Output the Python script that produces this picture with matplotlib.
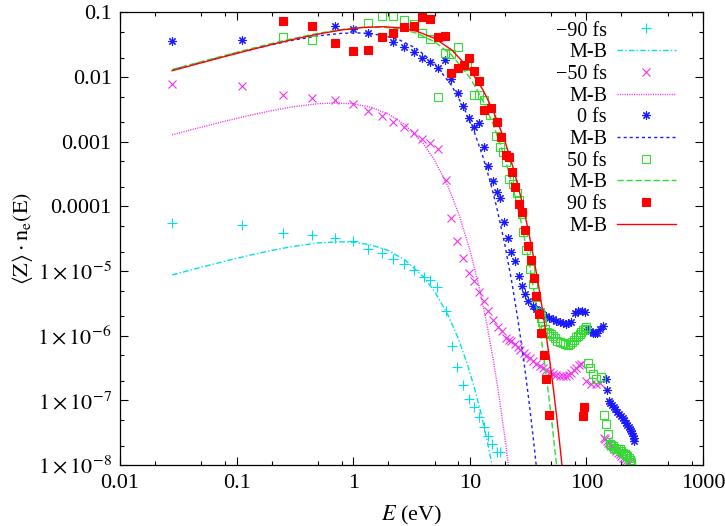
import matplotlib
matplotlib.use('Agg')
import matplotlib.pyplot as plt
from matplotlib.lines import Line2D
from matplotlib.ticker import FixedLocator, NullFormatter

plt.rcParams['font.family'] = ['Liberation Serif', 'DejaVu Serif']
plt.rcParams['mathtext.fontset'] = 'stix'

# ---- simulated spectra: energy (eV) and <Z> n_e(E) ----
e_m90 = [0.028, 0.112, 0.248, 0.44, 0.695, 1.0, 1.35, 1.75, 2.2, 2.71, 3.31, 4.03, 4.53,
         5.28, 6.22, 7.0, 7.83, 8.75, 9.85, 10.8, 12.0, 13.2, 14.3, 15.6, 17.1, 18.3]
n_m90 = [5.5e-5, 5.07e-5, 3.91e-5, 3.59e-5, 3.27e-5, 2.87e-5, 2.21e-5, 1.91e-5, 1.51e-5,
         1.29e-5, 1.04e-5, 8.2e-6, 7.3e-6, 5.75e-6, 2.44e-6, 7.0e-7, 3.23e-7, 1.72e-7,
         1.04e-7, 7.9e-8, 5.5e-8, 3.9e-8, 2.8e-8, 2.1e-8, 1.6e-8, 1.6e-8]

e_m50 = [0.028, 0.112, 0.248, 0.44, 0.695, 1.0, 1.35, 1.75, 2.2, 2.71, 3.31, 3.93, 4.58,
         5.31, 6.22, 6.95, 7.83, 8.75, 9.85, 10.9, 12.0, 13.2, 14.4, 15.8, 17.5, 19.0,
         20.6, 21.5, 22.4, 24.3, 25.7, 27.2, 28.9, 30.6, 32.6, 34.8, 37.2, 39.7, 42.4,
         45.3, 48.3, 51.6, 55.1, 58.9, 63.0, 67.3, 70.8, 74.3, 78.0, 81.9, 86.0, 90.4,
         99.8, 110, 121, 132, 141, 145, 149, 153, 158, 163, 168, 174, 180, 186, 193, 199,
         206, 213, 220, 227, 234]
n_m50 = [7.8e-3, 7.24e-3, 5.26e-3, 4.81e-3, 4.4e-3, 3.81e-3, 2.99e-3, 2.53e-3, 2.0e-3,
         1.71e-3, 1.38e-3, 1.09e-3, 9.4e-4, 7.6e-4, 2.6e-4, 6.7e-5, 2.9e-5, 1.58e-5,
         9.2e-6, 6.95e-6, 4.8e-6, 3.43e-6, 2.4e-6, 1.76e-6, 1.38e-6, 1.2e-6, 9.1e-7,
         8.7e-7, 8.4e-7, 7.4e-7, 6.7e-7, 6.0e-7, 5.4e-7, 4.9e-7, 4.5e-7, 4.1e-7, 3.7e-7,
         3.4e-7, 3.15e-7, 2.9e-7, 2.7e-7, 2.55e-7, 2.45e-7, 2.4e-7, 2.4e-7, 2.4e-7,
         2.5e-7, 2.67e-7, 2.9e-7, 3.2e-7, 3.5e-7, 3.7e-7, 2.0e-7, 1.82e-7, 1.8e-7, 1.85e-7,
         2.65e-8, 2.5e-8, 2.35e-8, 2.2e-8, 2.1e-8, 2.0e-8, 1.9e-8, 1.77e-8, 1.65e-8,
         1.55e-8, 1.48e-8, 1.4e-8, 1.3e-8, 1.23e-8, 1.17e-8, 1.12e-8, 1.07e-8]

e_0 = [0.028, 0.112, 0.248, 0.44, 0.695, 1.0, 1.35, 2.2, 2.71, 3.31, 3.93, 4.6, 5.35, 6.1,
       6.95, 7.92, 8.75, 9.85, 10.8, 12.0, 13.2, 14.4, 15.7, 17.1, 18.3, 19.5, 21.3, 22.6,
       24.5, 26.3, 27.8, 29.6, 31.6, 34.8, 37.0, 39.7, 42.0, 45.3, 48.0, 51.6, 55.0, 58.9,
       63.0, 67.3, 70.0, 73.3, 79.5, 85.0, 91.0, 96.5, 103, 108, 113, 118, 123, 132, 140,
       146, 150, 157, 161, 165, 171, 177, 184, 192, 198, 205, 212, 219, 225, 231, 236, 241,
       245, 250, 254, 258]
n_0 = [0.0361, 0.0375, 0.0746, 0.0624, 0.0624, 0.055, 0.0487, 0.0345, 0.0297, 0.0247,
       0.0195, 0.0173, 0.0139, 0.0184, 9.4e-3, 5.65e-3, 3.55e-3, 2.37e-3, 1.68e-3, 1.92e-3,
       8.3e-4, 4.27e-4, 2.5e-4, 1.67e-4, 1.33e-4, 5.75e-5, 3.3e-5, 2.0e-5, 1.45e-5, 8.4e-6,
       5.85e-6, 4.43e-6, 3.49e-6, 2.92e-6, 2.6e-6, 2.44e-6, 2.2e-6, 2.0e-6, 1.9e-6, 1.8e-6,
       1.7e-6, 1.61e-6, 1.55e-6, 1.53e-6, 1.55e-6, 1.65e-6, 2.23e-6, 2.4e-6, 2.44e-6,
       2.3e-6, 1.27e-6, 1.18e-6, 1.12e-6, 1.1e-6, 1.11e-6, 1.28e-6, 1.43e-6, 2.15e-7,
       1.46e-7, 9.8e-8, 9.0e-8, 8.5e-8, 7.9e-8, 7.3e-8, 6.7e-8, 6.2e-8, 5.8e-8, 5.4e-8,
       5.0e-8, 4.5e-8, 4.2e-8, 3.9e-8, 3.6e-8, 3.37e-8, 3.1e-8, 2.8e-8, 2.6e-8, 2.36e-8]

e_50 = [0.248, 0.44, 1.35, 1.75, 2.2, 2.71, 3.31, 3.93, 4.58, 5.31, 6.1, 6.95, 7.9, 9.46,
        10.8, 12.1, 13.2, 14.8, 16.7, 18.1, 19.4, 20.6, 21.9, 23.6, 25.3, 26.7, 27.8, 28.7,
        30.6, 32.6, 34.8, 37.3, 39.7, 41.0, 42.0, 44.5, 46.0, 47.8, 49.5, 51.6, 54.0, 56.5,
        59.5, 62.7, 66.0, 69.0, 72.5, 75.9, 78.5, 81.7, 84.5, 87.6, 90.5, 93.5, 96.5, 99.9,
        103, 108, 114, 122, 134, 143, 148, 153, 158, 163, 168, 174, 180, 186, 193, 200,
        206, 213, 220, 225, 230, 236, 241]
n_50 = [0.0419, 0.0375, 0.0687, 0.0889, 0.0889, 0.0765, 0.066, 0.0487, 0.0384, 4.84e-3,
        0.0238, 0.0225, 0.0289, 0.0148, 5.26e-3, 5.26e-3, 4.5e-3, 2.58e-3, 1.22e-3, 8.3e-4,
        6.95e-4, 4.86e-4, 2.69e-4, 2.25e-4, 1.61e-4, 1.24e-4, 7.7e-5, 4.0e-5, 2.1e-5,
        1.08e-5, 6.3e-6, 3.9e-6, 2.3e-6, 1.9e-6, 1.6e-6, 1.25e-6, 1.15e-6, 1.1e-6, 1.05e-6,
        1.0e-6, 9.2e-7, 8.4e-7, 8.0e-7, 7.6e-7, 7.4e-7, 7.2e-7, 7.5e-7, 7.9e-7, 8.6e-7,
        9.4e-7, 1.0e-6, 1.06e-6, 1.15e-6, 1.22e-6, 1.28e-6, 1.35e-6, 3.8e-7, 3.2e-7, 2.6e-7,
        2.15e-7, 2.3e-7, 6.0e-8, 4.3e-8, 3.0e-8, 2.1e-8, 2.05e-8, 2.0e-8, 1.85e-8, 1.75e-8,
        1.75e-8, 1.75e-8, 1.65e-8, 1.55e-8, 1.5e-8, 1.43e-8, 1.37e-8, 1.3e-8, 1.2e-8, 1.1e-8]

e_90 = [0.248, 0.44, 0.695, 1.0, 1.35, 1.75, 2.2, 2.71, 3.31, 3.93, 4.6, 5.31, 6.1, 6.95,
        7.9, 8.9, 9.85, 10.9, 12.0, 13.2, 15.1, 17.1, 18.5, 20.3, 21.7, 23.2, 24.5, 26.7,
        27.8, 29.5, 31.5, 33.6, 35.4, 37.3, 39.3, 41.1, 43.2, 45.3, 47.5, 93.6, 96.3]
n_90 = [0.0746, 0.0607, 0.0341, 0.0253, 0.0262, 0.0417, 0.0476, 0.059, 0.0611, 0.0843,
        0.0785, 0.0417, 0.0432, 0.0114, 0.0136, 0.0156, 0.0195, 0.0125, 8.8e-3, 3.05e-3,
        3.37e-3, 2.03e-3, 1.19e-3, 6.2e-4, 5.9e-4, 3.4e-4, 2.0e-4, 1.1e-4, 8.2e-5, 4.3e-5,
        2.48e-5, 1.46e-5, 7.8e-6, 4.17e-6, 2.2e-6, 1.09e-6, 5.1e-7, 2.13e-7, 5.9e-8,
        5.75e-8, 8.0e-8]

# ---- Maxwell-Boltzmann curves ----
mb_e_m90 = [0.028, 0.05, 0.08, 0.12, 0.2, 0.3, 0.5, 0.75, 1.0, 1.4, 2.0, 2.8, 4.0, 5.0,
            6.5, 8.0, 9.5, 11, 12.5, 14, 15.5, 16.5]
mb_m90 = [8.71e-6, 1.148e-5, 1.424e-5, 1.700e-5, 2.085e-5, 2.395e-5, 2.720e-5, 2.838e-5,
          2.792e-5, 2.556e-5, 2.080e-5, 1.473e-5, 8.16e-6, 4.806e-6, 2.094e-6, 8.884e-7,
          3.702e-7, 1.522e-7, 6.208e-8, 2.511e-8, 1.010e-8, 5.49e-9]

mb_e_m50 = [0.028, 0.05, 0.08, 0.12, 0.2, 0.3, 0.5, 0.7, 1.0, 1.4, 2.0, 2.8, 4.0, 5.0,
            6.5, 8.0, 10, 12, 14, 16, 18, 20, 22]
mb_m50 = [1.280e-3, 1.684e-3, 2.085e-3, 2.483e-3, 3.030e-3, 3.459e-3, 3.878e-3, 3.986e-3,
          3.857e-3, 3.443e-3, 2.697e-3, 1.817e-3, 9.326e-4, 5.157e-4, 2.044e-4, 7.885e-5,
          2.156e-5, 5.777e-6, 1.525e-6, 3.987e-7, 1.034e-7, 2.665e-8, 6.83e-9]

mb_e_0 = [0.028, 0.05, 0.08, 0.12, 0.2, 0.3, 0.5, 0.8, 1.2, 1.8, 2.5, 3.5, 5, 7, 9, 11,
          13, 15, 17, 20, 23, 26, 29, 32, 35, 38]
mb_0 = [0.01288, 0.01703, 0.02123, 0.02552, 0.03171, 0.03703, 0.04347, 0.04766, 0.04825,
        0.04441, 0.03750, 0.02756, 0.01613, 7.361e-3, 3.221e-3, 1.373e-3, 5.762e-4,
        2.387e-4, 9.809e-5, 2.55e-5, 6.554e-6, 1.670e-6, 4.226e-7, 1.063e-7, 2.667e-8,
        6.66e-9]

mb_e_50 = [0.028, 0.05, 0.08, 0.12, 0.2, 0.3, 0.5, 0.8, 1.2, 1.8, 2.5, 3.5, 5, 7, 10, 13,
           16, 20, 24, 28, 32, 36, 40, 44, 48, 52, 56]
mb_50 = [0.0131, 0.01738, 0.02177, 0.02633, 0.03312, 0.03928, 0.04754, 0.05459, 0.05876,
         0.05930, 0.05576, 0.04780, 0.03521, 0.02186, 9.918e-3, 4.298e-3, 1.812e-3,
         5.575e-4, 1.680e-4, 4.992e-5, 1.469e-5, 4.285e-6, 1.243e-6, 3.59e-7, 1.031e-7,
         2.957e-8, 8.44e-9]

mb_e_90 = [0.028, 0.05, 0.08, 0.12, 0.2, 0.3, 0.5, 0.8, 1.2, 1.8, 2.5, 3.5, 5, 7, 10, 13,
           16, 20, 24, 28, 32, 36, 40, 44, 48, 52, 56, 60, 64]
mb_90 = [0.01257, 0.01668, 0.02092, 0.02533, 0.03195, 0.03801, 0.04631, 0.05370, 0.05856,
         0.06028, 0.05799, 0.05135, 0.03973, 0.02634, 0.01320, 6.302e-3, 2.932e-3,
         1.028e-3, 3.533e-4, 1.197e-4, 4.013e-5, 1.335e-5, 4.414e-6, 1.452e-6, 4.757e-7,
         1.553e-7, 5.05e-8, 1.642e-8, 5.32e-9]

labels = ['\u221290 fs', '\u221250 fs', '0 fs', '50 fs', '90 fs']
colors = ['#00e0ea', '#f030f0', '#1a1aff', '#30dd30', '#ff0000']
markers = ['+', 'x', (8, 2, 0), 's', 's']
mfc = ['none', 'none', 'none', 'none', '#ff0000']
msize = [6.5, 5.5, 6.0, 5.5, 5.2]
dashes = [(0, (4, 1.6, 1, 1.6)), (0, (0.8, 0.9)), (0, (2.2, 2.2)), (0, (4.5, 2.0)), '-']

points = [(e_m90, n_m90), (e_m50, n_m50), (e_0, n_0), (e_50, n_50), (e_90, n_90)]
curves = [(mb_e_m90, mb_m90), (mb_e_m50, mb_m50), (mb_e_0, mb_0), (mb_e_50, mb_50),
          (mb_e_90, mb_90)]

fig = plt.figure(figsize=(7.25, 5.26), dpi=100)
ax = fig.add_axes([0.1655, 0.116, 0.8041, 0.8603])

handles, names = [], []
for i in range(5):
    ex, ny = points[i]
    ax.plot(ex, ny, ls='none', marker=markers[i], ms=msize[i], mec=colors[i],
            mfc=mfc[i], mew=0.8)
    cx, cy = curves[i]
    ax.plot(cx, cy, ls=dashes[i], color=colors[i], lw=1.0)
    handles.append(Line2D([], [], ls='none', marker=markers[i], ms=msize[i],
                          mec=colors[i], mfc=mfc[i], mew=0.8))
    handles.append(Line2D([], [], ls=dashes[i], color=colors[i], lw=1.0))
    names += [labels[i], 'M-B']

ax.set_xscale('log')
ax.set_yscale('log')
ax.set_xlim(0.01, 1000)
ax.set_ylim(1e-8, 0.1)

xmaj = [0.01, 0.1, 1, 10, 100, 1000]
xmin = [m * d for d in [0.01, 0.1, 1, 10, 100] for m in (2, 5, 8)]
ymaj = [1e-8, 1e-7, 1e-6, 1e-5, 1e-4, 1e-3, 1e-2, 1e-1]
ymin = [m * d for d in [1e-8, 1e-7, 1e-6, 1e-5, 1e-4, 1e-3, 1e-2] for m in (2, 5)]
xlab = ['0.01', '0.1', '1', '10', '100', '1000']
ylab = [r'$1\times10^{-8}$', r'$1\times10^{-7}$', r'$1\times10^{-6}$', r'$1\times10^{-5}$',
        '0.0001', '0.001', '0.01', '0.1']

ax.xaxis.set_major_locator(FixedLocator(xmaj))
ax.xaxis.set_minor_locator(FixedLocator(xmin))
ax.yaxis.set_major_locator(FixedLocator(ymaj))
ax.yaxis.set_minor_locator(FixedLocator(ymin))
ax.set_xticklabels(xlab)
ax.set_yticklabels(ylab)
ax.xaxis.set_minor_formatter(NullFormatter())
ax.yaxis.set_minor_formatter(NullFormatter())

ax.tick_params(which='both', direction='in', top=True, right=True, width=0.8)
ax.tick_params(which='major', length=6, labelsize=16)
ax.tick_params(axis='x', which='major', pad=6.5)
ax.tick_params(axis='y', which='major', pad=6)
ax.tick_params(which='minor', length=3)
for s in ax.spines.values():
    s.set_linewidth(0.9)

ax.set_xlabel(r'$E$ (eV)', fontsize=16, labelpad=8)
ax.set_ylabel(r'$\langle\mathrm{Z}\rangle\cdot\mathrm{n_e(E)}$', fontsize=16, labelpad=2)

# legend: rows should sit at ~31 px from the top, 21.7 px apart
leg_fs = 14.5
H = fig.bbox.height


def make_legend(spacing, ytop):
    return ax.legend(handles, names, loc='upper right', bbox_to_anchor=(0.953, ytop),
                     frameon=False, markerfirst=False, fontsize=leg_fs, handlelength=2.9,
                     handletextpad=0.5, labelspacing=spacing, borderpad=0,
                     borderaxespad=0, numpoints=1)


def row_centres(leg):
    fig.canvas.draw()
    r = fig.canvas.get_renderer()
    ys = []
    for t in leg.get_texts():
        b = t.get_window_extent(r)
        ys.append(H - (b.y0 + b.y1) / 2)
    return ys


spacing, ytop = 0.1, 0.98
leg = make_legend(spacing, ytop)
ys = row_centres(leg)
step = (ys[-1] - ys[0]) / (len(ys) - 1)
spacing += (21.7 - step) / (leg_fs * 100 / 72)
leg.remove()
leg = make_legend(spacing, ytop)
ys = row_centres(leg)
ytop += (ys[0] - 31.0) / ax.bbox.height
leg.remove()
leg = make_legend(spacing, ytop)

fig.savefig('out.png', dpi=100)
